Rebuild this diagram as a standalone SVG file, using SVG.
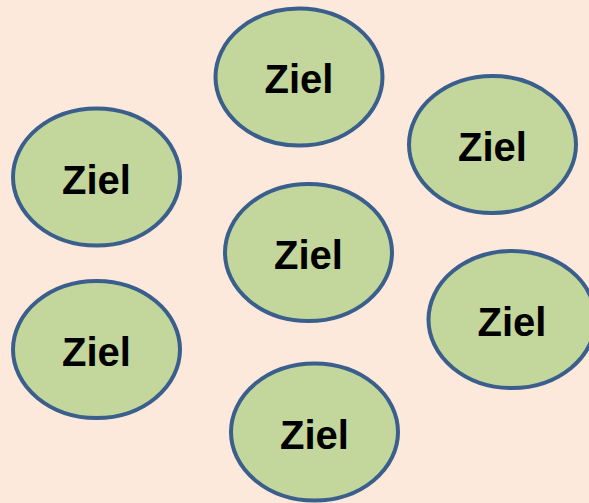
<svg xmlns="http://www.w3.org/2000/svg" width="589" height="503" viewBox="0 0 589 503">
<style>
.n ellipse{fill:#C3D69B;stroke:#3A5F8C;stroke-width:4}
.n text{font-family:"Liberation Sans",Arial,sans-serif;font-weight:bold;font-size:40px;fill:#000;text-anchor:middle}
</style>
<rect width="589" height="503" fill="#FDE9DB"/>
<g id="connectors"></g>
<g id="n1" class="n"><ellipse cx="299" cy="77" rx="83.5" ry="68.5"/><text x="299" y="93">Ziel</text></g>
<g id="n2" class="n"><ellipse cx="492.5" cy="144.5" rx="83.5" ry="68.5"/><text x="492.5" y="161">Ziel</text></g>
<g id="n3" class="n"><ellipse cx="96.5" cy="177" rx="83.5" ry="68.5"/><text x="96.5" y="193.5">Ziel</text></g>
<g id="n4" class="n"><ellipse cx="308.5" cy="252.5" rx="83.5" ry="68.5"/><text x="308.5" y="269">Ziel</text></g>
<g id="n5" class="n"><ellipse cx="512" cy="319.5" rx="83.5" ry="68.5"/><text x="512" y="336">Ziel</text></g>
<g id="n6" class="n"><ellipse cx="96.5" cy="349.5" rx="83.5" ry="68.5"/><text x="96.5" y="366">Ziel</text></g>
<g id="n7" class="n"><ellipse cx="314.5" cy="432" rx="83.5" ry="68.5"/><text x="314.5" y="448.5">Ziel</text></g>
</svg>
